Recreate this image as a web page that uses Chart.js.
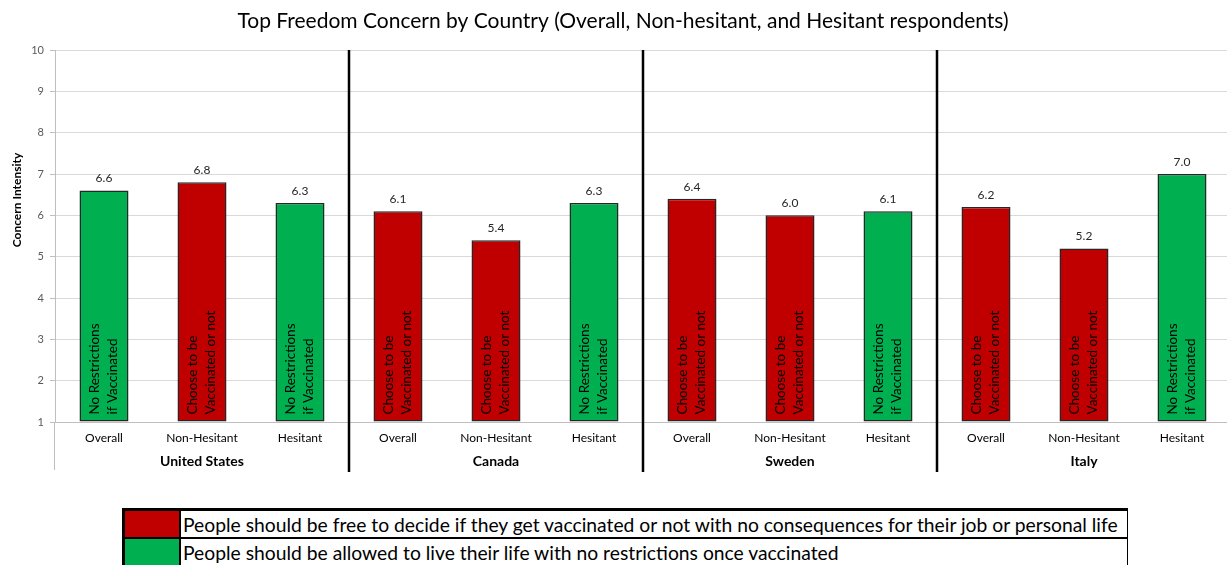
<!DOCTYPE html>
<html>
<head>
<meta charset="utf-8">
<script src="https://cdn.jsdelivr.net/npm/chart.js@4/dist/chart.umd.min.js"></script>
<style>
  html, body { margin: 0; padding: 0; background: #fff; overflow: hidden; width: 1227px; height: 565px; }
  #wrap { position: absolute; left: 0; top: 0; width: 1231px; height: 490px; }
  #legend {
    position: absolute; left: 122px; top: 508px; width: 1006px;
    border-collapse: collapse; font-family: Lato, "Liberation Sans", sans-serif;
    font-size: 19.3px; color: #000;
    border-top: 3px solid #000; border-left: 3px solid #000; border-right: 1.5px solid #000;
  }
  #legend td { height: 26px; padding: 0; border-bottom: 2px solid #000; }
  #legend td.sw { width: 54px; border-right: 2px solid #000; }
  #legend td.tx { padding-left: 2px; white-space: nowrap; }
</style>
</head>
<body>
<div id="wrap"><canvas id="c" width="1231" height="490"></canvas></div>
<table id="legend">
  <tr><td class="sw" id="sw0"></td><td class="tx" id="tx0"></td></tr>
  <tr><td class="sw" id="sw1"></td><td class="tx" id="tx1"></td></tr>
</table>
<script>
// Countries and respondent groups
const countries = ['United States', 'Canada', 'Sweden', 'Italy'];
const groups = ['Overall', 'Non-Hesitant', 'Hesitant'];

// Concern intensity per group (Overall, Non-Hesitant, Hesitant)
const usValues     = [6.6, 6.8, 6.3];
const canadaValues = [6.1, 5.4, 6.3];
const swedenValues = [6.4, 6.0, 6.1];
const italyValues  = [6.2, 5.2, 7.0];

// Top concern per group
const usTop     = ['restrict', 'choose', 'restrict'];
const canadaTop = ['choose', 'choose', 'restrict'];
const swedenTop = ['choose', 'choose', 'restrict'];
const italyTop  = ['choose', 'choose', 'restrict'];

// Concern keys, their colours, short in-bar labels and legend text
const concernKeys = ['choose', 'restrict'];
const concernColors = ['#C00000', '#00B050'];
const concernShort = [['Choose to be', 'Vaccinated or not'], ['No Restrictions', 'if Vaccinated']];
const concernLegend = [
  'People should be free to decide if they get vaccinated or not with no consequences for their job or personal life',
  'People should be allowed to live their life with no restrictions once vaccinated'
];

const yTicks = [1, 2, 3, 4, 5, 6, 7, 8, 9, 10];

const chartTitle = 'Top Freedom Concern by Country (Overall, Non-hesitant, and Hesitant respondents)';
const yTitle = 'Concern Intensity';

const FONT = 'Lato, "Liberation Sans", sans-serif';

// Flatten into category lists
const allValues = [usValues, canadaValues, swedenValues, italyValues].flat();
const allTop = [usTop, canadaTop, swedenTop, italyTop].flat();
const labels = countries.flatMap(() => groups);
const barColors = allTop.map(k => concernColors[concernKeys.indexOf(k)]);

// Legend table
concernKeys.forEach((k, i) => {
  document.getElementById('sw' + i).style.background = concernColors[i];
  document.getElementById('tx' + i).textContent = concernLegend[i];
});

const decorations = {
  id: 'decorations',
  afterDatasetsDraw(chart) {
    const { ctx, chartArea } = chart;
    const x = chart.scales.x;
    const meta = chart.getDatasetMeta(0);
    ctx.save();

    // In-bar rotated labels and value labels
    meta.data.forEach((bar, i) => {
      const lines = concernShort[concernKeys.indexOf(allTop[i])];
      ctx.save();
      ctx.translate(bar.x, bar.base - 7);
      ctx.rotate(-Math.PI / 2);
      ctx.font = '13.5px ' + FONT;
      ctx.fillStyle = '#000';
      ctx.textAlign = 'left';
      ctx.textBaseline = 'middle';
      ctx.fillText(lines[0], 0, -9);
      ctx.fillText(lines[1], 0, 9);
      ctx.restore();

      ctx.font = '12px ' + FONT;
      ctx.fillStyle = '#262626';
      ctx.textAlign = 'center';
      ctx.textBaseline = 'middle';
      ctx.fillText(allValues[i].toFixed(1), bar.x, bar.y - 12);
    });

    // Left axis extension below the category labels
    ctx.strokeStyle = '#bfbfbf';
    ctx.lineWidth = 1;
    ctx.beginPath();
    ctx.moveTo(chartArea.left - 0.5, chartArea.bottom);
    ctx.lineTo(chartArea.left - 0.5, 470);
    ctx.stroke();

    // Country separators
    ctx.strokeStyle = '#000';
    ctx.lineWidth = 2.5;
    for (let g = 1; g < countries.length; g++) {
      const px = (x.getPixelForValue(g * 3 - 1) + x.getPixelForValue(g * 3)) / 2;
      ctx.beginPath();
      ctx.moveTo(px, chartArea.top);
      ctx.lineTo(px, 472);
      ctx.stroke();
    }

    // Country names
    ctx.font = 'bold 14px ' + FONT;
    ctx.fillStyle = '#000';
    ctx.textAlign = 'center';
    ctx.textBaseline = 'middle';
    countries.forEach((c, g) => {
      ctx.fillText(c, x.getPixelForValue(g * 3 + 1), 461);
    });

    // Y-axis title
    ctx.save();
    ctx.translate(17, 200);
    ctx.rotate(-Math.PI / 2);
    ctx.font = 'bold 12px ' + FONT;
    ctx.fillText(yTitle, 0, 0);
    ctx.restore();

    // Chart title
    ctx.font = '21px ' + FONT;
    ctx.fillStyle = '#000';
    ctx.fillText(chartTitle, 623, 21);

    ctx.restore();
  }
};

new Chart(document.getElementById('c'), {
  type: 'bar',
  data: {
    labels: labels,
    datasets: [{
      data: allValues,
      base: 1,
      backgroundColor: barColors,
      borderColor: '#262626',
      borderWidth: 1.5,
      borderSkipped: false,
      barPercentage: 0.5,
      categoryPercentage: 1.0
    }]
  },
  options: {
    responsive: false,
    animation: false,
    layout: { padding: { top: 50, right: 0, bottom: 0, left: 0 } },
    plugins: { legend: { display: false }, title: { display: false }, tooltip: { enabled: false } },
    scales: {
      x: {
        grid: { display: false, drawTicks: false },
        border: { color: '#bfbfbf' },
        ticks: { font: { family: FONT, size: 12 }, color: '#000', padding: 9, maxRotation: 0, autoSkip: false },
        afterFit(scale) { scale.height = 68; }
      },
      y: {
        min: 1, max: 10,
        afterBuildTicks(scale) { scale.ticks = yTicks.map(v => ({ value: v })); },
        grid: { color: '#d9d9d9', tickLength: 5, tickColor: '#bfbfbf' },
        border: { color: '#bfbfbf' },
        ticks: { font: { family: FONT, size: 11 }, color: '#595959', padding: 6 },
        afterFit(scale) { scale.width = 55; }
      }
    }
  },
  plugins: [decorations]
});
</script>
</body>
</html>
